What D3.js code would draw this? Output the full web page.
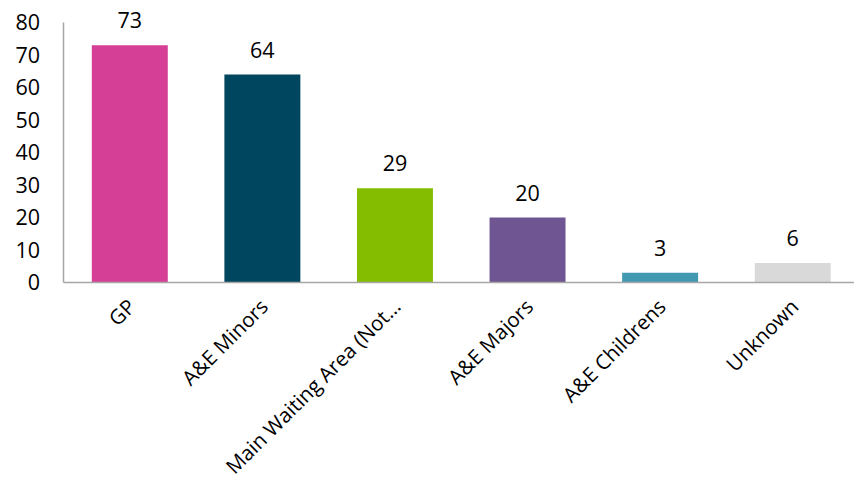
<!DOCTYPE html>
<html><head><meta charset="utf-8">
<script src="https://cdn.jsdelivr.net/npm/d3@7"></script>
<style>body{margin:0;background:#fff;}svg{display:block;}text{font-family:"Open Sans",sans-serif;fill:#000;}</style>
</head><body>
<svg id="c" width="854" height="481"></svg>
<script>
const categories = ["GP","A&E Minors","Main Waiting Area (Not…","A&E Majors","A&E Childrens","Unknown"];
const values = [73,64,29,20,3,6];
const colors = ["#D63F96","#00465F","#84BD00","#6F5591","#4198B0","#D9D9D9"];
const yTicks = [0,10,20,30,40,50,60,70,80];

const svg = d3.select("#c");
const x = d3.scaleBand().domain(categories).range([63.5, 859]).paddingInner(0.427).paddingOuter(0.2135);
const y = d3.scaleLinear().domain([0,80]).range([282.5, 22.5]);

svg.selectAll("rect.bar").data(values).join("rect")
  .attr("x",(d,i)=>x(categories[i])).attr("width",x.bandwidth())
  .attr("y",d=>y(d)).attr("height",d=>y(0)-y(d))
  .attr("fill",(d,i)=>colors[i]);

svg.append("line").attr("x1",63.5).attr("x2",63.5).attr("y1",y(80)).attr("y2",y(0)).attr("stroke","#A6A6A6").attr("stroke-width",1.5);
svg.append("line").attr("x1",63.5).attr("x2",860).attr("y1",y(0)).attr("y2",y(0)).attr("stroke","#A6A6A6").attr("stroke-width",1.5);

svg.selectAll("text.yt").data(yTicks).join("text")
  .attr("x",40).attr("y",d=>y(d)).attr("dy","0.36em").attr("text-anchor","end")
  .style("font-size","21.5px").text(d=>d);

svg.selectAll("text.vl").data(values).join("text")
  .attr("x",(d,i)=>x(categories[i])+x.bandwidth()/2).attr("y",d=>y(d)-17)
  .attr("text-anchor","middle").style("font-size","21.5px").text(d=>d);

svg.selectAll("text.cl").data(categories).join("text")
  .attr("transform",d=>`translate(${x(d)+x.bandwidth()/2+2},303) rotate(-45)`)
  .attr("text-anchor","end").attr("dy","0.35em")
  .style("font-size","20.5px").text(d=>d);
</script>
</body></html>
